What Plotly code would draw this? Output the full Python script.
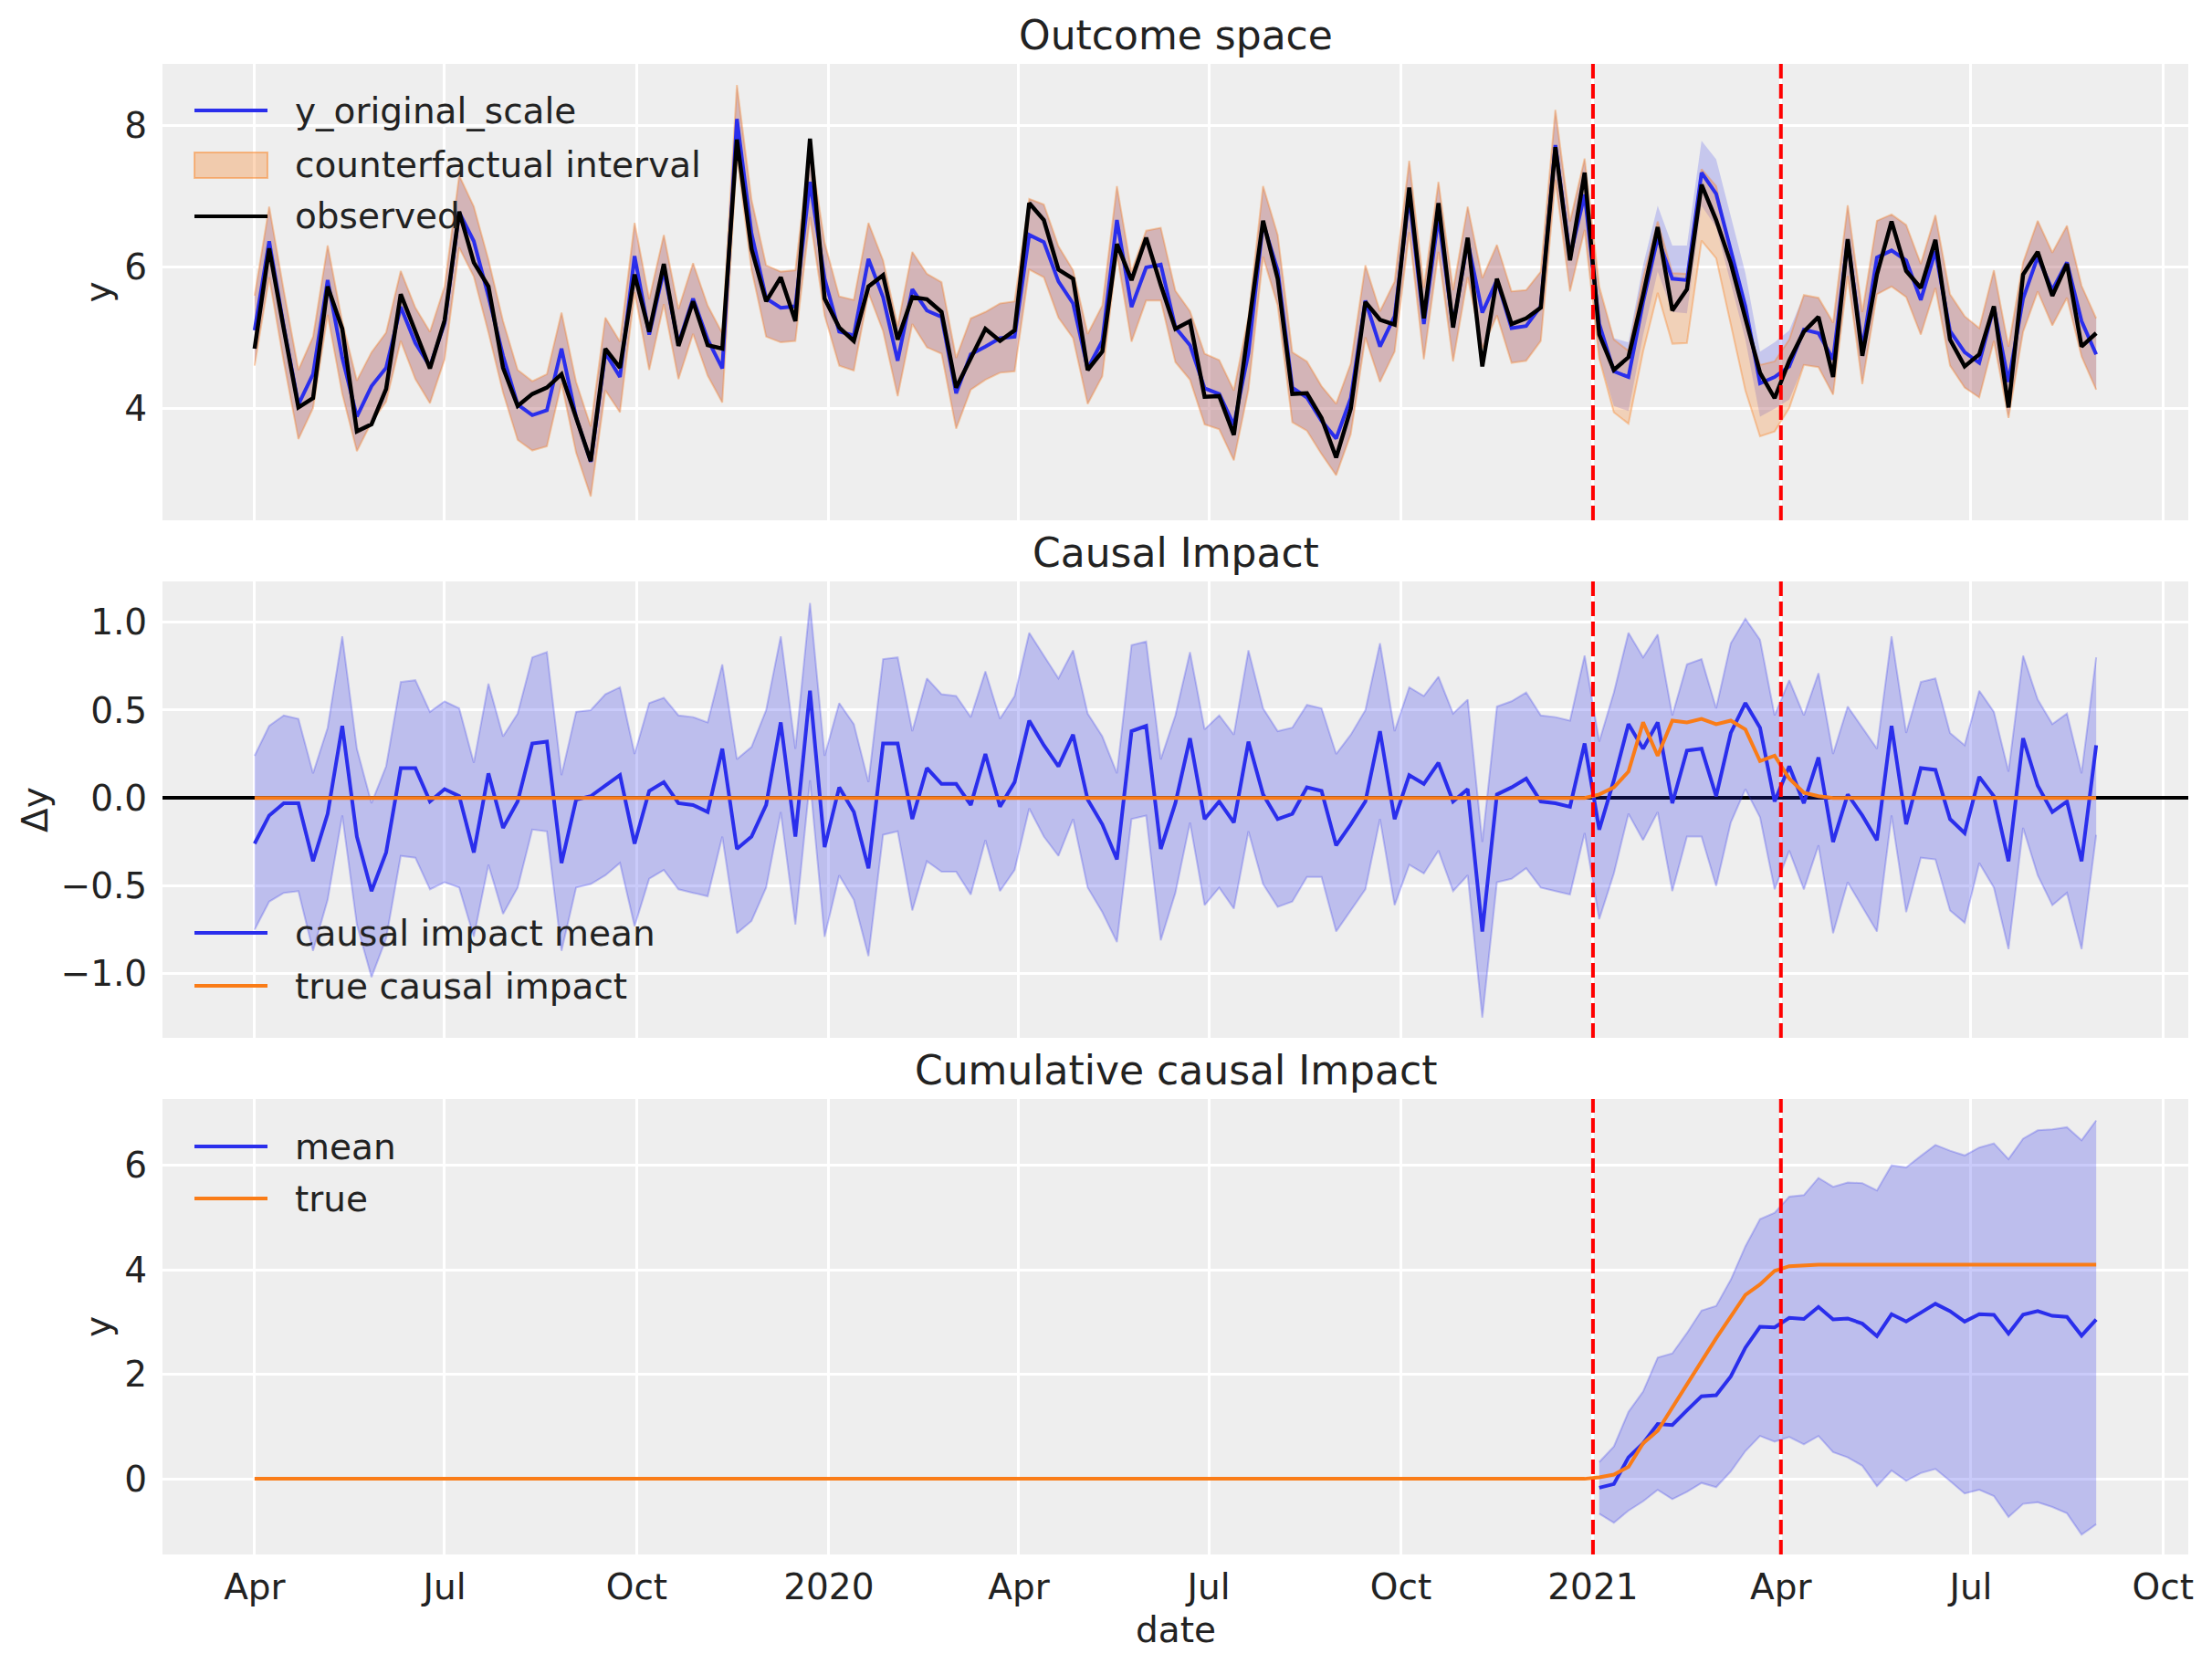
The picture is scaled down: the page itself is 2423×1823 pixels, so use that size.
import pandas as pd
import plotly.graph_objects as go

# ---------------- data ----------------
start_date = "2019-04-01"
n_points = 127
n_pre = 92
dates = pd.date_range(start_date, periods=n_points, freq="W-MON")
post_dates = dates[n_pre:]
intervention_dates = ["2021-01-01", "2021-04-01"]

x_tick_dates = ["2019-04-01", "2019-07-01", "2019-10-01", "2020-01-01", "2020-04-01",
                "2020-07-01", "2020-10-01", "2021-01-01", "2021-04-01", "2021-07-01",
                "2021-10-01"]
x_tick_text = ["Apr", "Jul", "Oct", "2020", "Apr", "Jul", "Oct", "2021", "Apr", "Jul", "Oct"]

observed = [
    4.84, 6.26, 5.12, 4.01, 4.14, 5.72, 5.12, 3.67, 3.77, 4.27,
    5.61, 5.08, 4.56, 5.24, 6.78, 6.06, 5.72, 4.57, 4.03, 4.20,
    4.29, 4.48, 3.86, 3.25, 4.84, 4.57, 5.89, 5.08, 6.04, 4.88,
    5.51, 4.89, 4.84, 7.80, 6.25, 5.51, 5.85, 5.23, 7.81, 5.55,
    5.14, 4.95, 5.72, 5.88, 4.97, 5.57, 5.54, 5.36, 4.29, 4.72,
    5.12, 4.95, 5.10, 6.90, 6.66, 5.96, 5.83, 4.54, 4.80, 6.32,
    5.81, 6.41, 5.74, 5.12, 5.23, 4.16, 4.17, 3.62, 5.10, 6.65,
    5.83, 4.20, 4.21, 3.86, 3.30, 3.99, 5.50, 5.25, 5.18, 7.12,
    5.27, 6.90, 5.14, 6.41, 4.59, 5.83, 5.19, 5.27, 5.42, 7.69,
    6.09, 7.33, 5.04, 4.54, 4.72, 5.60, 6.56, 5.38, 5.68, 7.16,
    6.66, 6.05, 5.27, 4.50, 4.14, 4.67, 5.08, 5.29, 4.44, 6.39,
    4.74, 5.89, 6.64, 5.94, 5.70, 6.38, 4.97, 4.59, 4.76, 5.44,
    4.01, 5.89, 6.21, 5.59, 6.04, 4.87, 5.06,
]

y_fit = [
    5.10, 6.36, 5.15, 4.05, 4.48, 5.81, 4.71, 3.88, 4.31, 4.57,
    5.43, 4.92, 4.59, 5.20, 6.77, 6.36, 5.58, 4.74, 4.05, 3.90,
    3.97, 4.84, 3.87, 3.24, 4.78, 4.44, 6.15, 5.04, 5.95, 4.91,
    5.55, 4.97, 4.56, 8.09, 6.47, 5.55, 5.42, 5.44, 7.20, 5.83,
    5.08, 5.03, 6.11, 5.57, 4.67, 5.68, 5.38, 5.29, 4.21, 4.76,
    4.87, 4.99, 5.01, 6.45, 6.35, 5.79, 5.48, 4.56, 4.95, 6.66,
    5.43, 5.99, 6.03, 5.14, 4.89, 4.28, 4.20, 3.76, 4.78, 6.62,
    5.95, 4.29, 4.15, 3.82, 3.57, 4.14, 5.52, 4.87, 5.30, 6.99,
    5.19, 6.70, 5.16, 6.36, 5.35, 5.81, 5.13, 5.16, 5.44, 7.72,
    6.14, 7.02, 5.19, 4.52, 4.44, 5.50, 6.41, 5.83, 5.81, 7.33,
    7.03, 6.21, 5.44, 4.35, 4.44, 4.59, 5.11, 5.06, 4.69, 6.37,
    4.84, 6.13, 6.23, 6.09, 5.53, 6.22, 5.09, 4.79, 4.64, 5.43,
    4.37, 5.55, 6.14, 5.67, 6.06, 5.23, 4.76,
]

fit_lower = [
    4.60, 5.85, 4.65, 3.56, 4.00, 5.32, 4.20, 3.39, 3.80, 4.09,
    4.95, 4.41, 4.07, 4.69, 6.27, 5.86, 5.07, 4.22, 3.55, 3.40,
    3.46, 4.35, 3.37, 2.75, 4.25, 3.94, 5.64, 4.54, 5.47, 4.41,
    5.05, 4.46, 4.08, 7.58, 5.96, 5.01, 4.93, 4.95, 6.70, 5.31,
    4.60, 4.53, 5.63, 5.09, 4.17, 5.19, 4.86, 4.77, 3.71, 4.26,
    4.40, 4.50, 4.52, 5.96, 5.85, 5.28, 4.99, 4.06, 4.45, 6.18,
    4.94, 5.52, 5.52, 4.65, 4.40, 3.77, 3.70, 3.26, 4.26, 6.14,
    5.45, 3.80, 3.68, 3.35, 3.05, 3.63, 5.00, 4.37, 4.80, 6.49,
    4.69, 6.21, 4.66, 5.85, 4.84, 5.31, 4.64, 4.67, 4.95, 7.23,
    5.65, 6.52, 4.71, 4.03, 3.96, 5.03, 5.93, 5.36, 5.34, 6.86,
    6.56, 5.75, 4.97, 3.88, 3.99, 4.12, 4.61, 4.58, 4.19, 5.87,
    4.34, 5.61, 5.72, 5.57, 5.04, 5.70, 4.60, 4.29, 4.15, 4.95,
    3.86, 5.08, 5.65, 5.17, 5.56, 4.73, 4.26,
]

fit_upper = [
    5.59, 6.85, 5.66, 4.54, 5.01, 6.30, 5.22, 4.39, 4.79, 5.07,
    5.94, 5.42, 5.08, 5.72, 7.29, 6.85, 6.10, 5.23, 4.54, 4.38,
    4.48, 5.35, 4.37, 3.74, 5.28, 4.94, 6.62, 5.54, 6.45, 5.40,
    6.05, 5.45, 5.06, 8.57, 6.95, 6.02, 5.93, 5.95, 7.71, 6.34,
    5.58, 5.53, 6.62, 6.09, 5.16, 6.21, 5.90, 5.78, 4.71, 5.27,
    5.36, 5.48, 5.51, 6.96, 6.88, 6.29, 5.95, 5.05, 5.45, 7.14,
    5.93, 6.51, 6.55, 5.66, 5.37, 4.77, 4.68, 4.25, 5.29, 7.14,
    6.45, 4.79, 4.66, 4.31, 4.06, 4.63, 6.02, 5.37, 5.79, 7.50,
    5.70, 7.20, 5.67, 6.85, 5.84, 6.31, 5.65, 5.67, 5.93, 8.22,
    6.64, 7.53, 5.70, 4.99, 4.93, 6.02, 6.86, 6.30, 6.30, 7.78,
    7.52, 6.73, 5.91, 4.80, 4.93, 5.10, 5.60, 5.56, 5.21, 6.87,
    5.36, 6.65, 6.74, 6.59, 6.04, 6.73, 5.61, 5.30, 5.13, 5.95,
    4.87, 6.06, 6.65, 6.20, 6.58, 5.73, 5.27,
]

cf_lower = [
    4.60, 5.85, 4.65, 3.56, 4.00, 5.32, 4.20, 3.39, 3.80, 4.09,
    4.95, 4.41, 4.07, 4.69, 6.27, 5.86, 5.07, 4.22, 3.55, 3.40,
    3.46, 4.35, 3.37, 2.75, 4.25, 3.94, 5.64, 4.54, 5.47, 4.41,
    5.05, 4.46, 4.08, 7.58, 5.96, 5.01, 4.93, 4.95, 6.70, 5.31,
    4.60, 4.53, 5.63, 5.09, 4.17, 5.19, 4.86, 4.77, 3.71, 4.26,
    4.40, 4.50, 4.52, 5.96, 5.85, 5.28, 4.99, 4.06, 4.45, 6.18,
    4.94, 5.52, 5.52, 4.65, 4.40, 3.77, 3.70, 3.26, 4.26, 6.14,
    5.45, 3.80, 3.68, 3.35, 3.05, 3.63, 5.00, 4.37, 4.80, 6.49,
    4.69, 6.21, 4.66, 5.85, 4.84, 5.31, 4.64, 4.67, 4.95, 7.23,
    5.65, 6.52, 4.70, 3.94, 3.78, 4.80, 5.63, 4.91, 4.92, 6.37,
    6.12, 5.17, 4.25, 3.60, 3.67, 4.00, 4.61, 4.58, 4.19, 5.87,
    4.34, 5.61, 5.72, 5.57, 5.04, 5.70, 4.60, 4.29, 4.15, 4.95,
    3.86, 5.08, 5.65, 5.17, 5.56, 4.73, 4.26,
]

cf_upper = [
    5.59, 6.85, 5.66, 4.54, 5.01, 6.30, 5.22, 4.39, 4.79, 5.07,
    5.94, 5.42, 5.08, 5.72, 7.29, 6.85, 6.10, 5.23, 4.54, 4.38,
    4.48, 5.35, 4.37, 3.74, 5.28, 4.94, 6.62, 5.54, 6.45, 5.40,
    6.05, 5.45, 5.06, 8.57, 6.95, 6.02, 5.93, 5.95, 7.71, 6.34,
    5.58, 5.53, 6.62, 6.09, 5.16, 6.21, 5.90, 5.78, 4.71, 5.27,
    5.36, 5.48, 5.51, 6.96, 6.88, 6.29, 5.95, 5.05, 5.45, 7.14,
    5.93, 6.51, 6.55, 5.66, 5.37, 4.77, 4.68, 4.25, 5.29, 7.14,
    6.45, 4.79, 4.66, 4.31, 4.06, 4.63, 6.02, 5.37, 5.79, 7.50,
    5.70, 7.20, 5.67, 6.85, 5.84, 6.31, 5.65, 5.67, 5.93, 8.22,
    6.64, 7.53, 5.72, 4.97, 4.81, 5.84, 6.64, 5.91, 5.90, 7.38,
    7.14, 6.19, 5.22, 4.61, 4.66, 4.97, 5.60, 5.56, 5.21, 6.87,
    5.36, 6.65, 6.74, 6.59, 6.04, 6.73, 5.61, 5.30, 5.13, 5.95,
    4.87, 6.06, 6.65, 6.20, 6.58, 5.73, 5.27,
]

impact_mean = [
    -0.26, -0.10, -0.03, -0.03, -0.36, -0.09, 0.41, -0.22, -0.53, -0.31,
    0.17, 0.17, -0.02, 0.05, 0.01, -0.31, 0.14, -0.17, -0.02, 0.31,
    0.32, -0.37, -0.01, 0.01, 0.07, 0.13, -0.26, 0.04, 0.09, -0.03,
    -0.04, -0.08, 0.28, -0.29, -0.22, -0.04, 0.43, -0.22, 0.61, -0.28,
    0.06, -0.08, -0.40, 0.31, 0.31, -0.12, 0.17, 0.08, 0.08, -0.04,
    0.25, -0.05, 0.09, 0.44, 0.30, 0.18, 0.36, -0.01, -0.15, -0.35,
    0.38, 0.41, -0.29, -0.03, 0.34, -0.12, -0.02, -0.14, 0.32, 0.02,
    -0.12, -0.09, 0.06, 0.04, -0.27, -0.15, -0.02, 0.38, -0.12, 0.13,
    0.08, 0.20, -0.02, 0.05, -0.76, 0.02, 0.06, 0.11, -0.02, -0.03,
    -0.05, 0.31, -0.18, 0.10, 0.42, 0.28, 0.43, -0.03, 0.27, 0.28,
    0.01, 0.37, 0.54, 0.40, -0.02, 0.18, -0.03, 0.23, -0.25, 0.02,
    -0.10, -0.24, 0.41, -0.15, 0.17, 0.16, -0.12, -0.20, 0.12, 0.01,
    -0.36, 0.34, 0.07, -0.08, -0.02, -0.36, 0.30,
]

impact_upper = [
    0.24, 0.41, 0.47, 0.45, 0.14, 0.40, 0.92, 0.28, -0.03, 0.18,
    0.66, 0.67, 0.49, 0.55, 0.51, 0.20, 0.65, 0.35, 0.48, 0.80,
    0.83, 0.13, 0.49, 0.50, 0.59, 0.63, 0.25, 0.54, 0.57, 0.47,
    0.46, 0.43, 0.76, 0.22, 0.29, 0.50, 0.92, 0.28, 1.11, 0.24,
    0.54, 0.42, 0.09, 0.79, 0.80, 0.38, 0.68, 0.59, 0.58, 0.46,
    0.72, 0.45, 0.58, 0.94, 0.81, 0.68, 0.84, 0.48, 0.35, 0.14,
    0.87, 0.89, 0.22, 0.47, 0.83, 0.39, 0.47, 0.36, 0.84, 0.51,
    0.38, 0.40, 0.53, 0.51, 0.25, 0.36, 0.50, 0.88, 0.38, 0.63,
    0.58, 0.69, 0.48, 0.56, -0.25, 0.52, 0.55, 0.60, 0.47, 0.46,
    0.44, 0.81, 0.32, 0.60, 0.94, 0.80, 0.93, 0.47, 0.76, 0.79,
    0.51, 0.88, 1.02, 0.90, 0.47, 0.67, 0.47, 0.71, 0.25, 0.52,
    0.40, 0.28, 0.92, 0.37, 0.66, 0.68, 0.37, 0.30, 0.61, 0.49,
    0.15, 0.81, 0.56, 0.42, 0.48, 0.14, 0.80,
]

impact_lower = [
    -0.75, -0.59, -0.54, -0.53, -0.87, -0.58, -0.10, -0.72, -1.02, -0.80,
    -0.33, -0.34, -0.52, -0.48, -0.51, -0.79, -0.38, -0.66, -0.51, -0.18,
    -0.19, -0.87, -0.51, -0.49, -0.44, -0.37, -0.73, -0.46, -0.41, -0.52,
    -0.54, -0.56, -0.22, -0.77, -0.70, -0.51, -0.08, -0.72, 0.10, -0.79,
    -0.44, -0.58, -0.90, -0.21, -0.19, -0.64, -0.36, -0.42, -0.42, -0.55,
    -0.24, -0.53, -0.41, -0.06, -0.22, -0.33, -0.12, -0.51, -0.65, -0.82,
    -0.12, -0.10, -0.81, -0.54, -0.14, -0.61, -0.51, -0.63, -0.19, -0.49,
    -0.62, -0.59, -0.45, -0.45, -0.76, -0.64, -0.52, -0.12, -0.61, -0.38,
    -0.43, -0.30, -0.53, -0.44, -1.25, -0.48, -0.46, -0.40, -0.51, -0.53,
    -0.55, -0.20, -0.69, -0.43, -0.09, -0.24, -0.08, -0.53, -0.22, -0.22,
    -0.50, -0.14, 0.05, -0.11, -0.52, -0.30, -0.52, -0.27, -0.77, -0.48,
    -0.62, -0.76, -0.10, -0.65, -0.34, -0.35, -0.64, -0.71, -0.37, -0.51,
    -0.86, -0.17, -0.44, -0.61, -0.54, -0.86, -0.21,
]

true_impact = [
    0.0, 0.0, 0.0, 0.0, 0.0, 0.0, 0.0, 0.0, 0.0, 0.0,
    0.0, 0.0, 0.0, 0.0, 0.0, 0.0, 0.0, 0.0, 0.0, 0.0,
    0.0, 0.0, 0.0, 0.0, 0.0, 0.0, 0.0, 0.0, 0.0, 0.0,
    0.0, 0.0, 0.0, 0.0, 0.0, 0.0, 0.0, 0.0, 0.0, 0.0,
    0.0, 0.0, 0.0, 0.0, 0.0, 0.0, 0.0, 0.0, 0.0, 0.0,
    0.0, 0.0, 0.0, 0.0, 0.0, 0.0, 0.0, 0.0, 0.0, 0.0,
    0.0, 0.0, 0.0, 0.0, 0.0, 0.0, 0.0, 0.0, 0.0, 0.0,
    0.0, 0.0, 0.0, 0.0, 0.0, 0.0, 0.0, 0.0, 0.0, 0.0,
    0.0, 0.0, 0.0, 0.0, 0.0, 0.0, 0.0, 0.0, 0.0, 0.0,
    0.0, 0.0, 0.02, 0.06, 0.15, 0.43, 0.24, 0.44, 0.43, 0.45,
    0.42, 0.44, 0.39, 0.21, 0.24, 0.11, 0.03, 0.01, 0.0, 0.0,
    0.0, 0.0, 0.0, 0.0, 0.0, 0.0, 0.0, 0.0, 0.0, 0.0,
    0.0, 0.0, 0.0, 0.0, 0.0, 0.0, 0.0,
]

cum_true = [
    0.0, 0.0, 0.0, 0.0, 0.0, 0.0, 0.0, 0.0, 0.0, 0.0,
    0.0, 0.0, 0.0, 0.0, 0.0, 0.0, 0.0, 0.0, 0.0, 0.0,
    0.0, 0.0, 0.0, 0.0, 0.0, 0.0, 0.0, 0.0, 0.0, 0.0,
    0.0, 0.0, 0.0, 0.0, 0.0, 0.0, 0.0, 0.0, 0.0, 0.0,
    0.0, 0.0, 0.0, 0.0, 0.0, 0.0, 0.0, 0.0, 0.0, 0.0,
    0.0, 0.0, 0.0, 0.0, 0.0, 0.0, 0.0, 0.0, 0.0, 0.0,
    0.0, 0.0, 0.0, 0.0, 0.0, 0.0, 0.0, 0.0, 0.0, 0.0,
    0.0, 0.0, 0.0, 0.0, 0.0, 0.0, 0.0, 0.0, 0.0, 0.0,
    0.0, 0.0, 0.0, 0.0, 0.0, 0.0, 0.0, 0.0, 0.0, 0.0,
    0.0, 0.0, 0.03, 0.08, 0.23, 0.68, 0.92, 1.37, 1.83, 2.25,
    2.69, 3.12, 3.52, 3.72, 3.98, 4.07, 4.09, 4.10, 4.10, 4.10,
    4.10, 4.10, 4.10, 4.10, 4.10, 4.10, 4.10, 4.10, 4.10, 4.10,
    4.10, 4.10, 4.10, 4.10, 4.10, 4.10, 4.10,
]

# cumulative impact over the post-intervention weeks
cum_mean = [
    -0.17, -0.10, 0.41, 0.68, 1.05, 1.03, 1.31, 1.58, 1.60, 1.96,
    2.51, 2.91, 2.90, 3.08, 3.06, 3.29, 3.05, 3.07, 2.97, 2.73,
    3.15, 3.01, 3.18, 3.35, 3.21, 3.01, 3.15, 3.14, 2.78, 3.14,
    3.21, 3.12, 3.10, 2.74, 3.05,
]
cum_upper = [
    0.32, 0.62, 1.28, 1.67, 2.32, 2.40, 2.79, 3.22, 3.31, 3.81,
    4.45, 4.97, 5.09, 5.40, 5.43, 5.76, 5.59, 5.67, 5.66, 5.52,
    6.00, 5.96, 6.18, 6.39, 6.28, 6.19, 6.34, 6.42, 6.12, 6.51,
    6.67, 6.69, 6.73, 6.48, 6.86,
]
cum_lower = [
    -0.67, -0.84, -0.61, -0.43, -0.21, -0.39, -0.25, -0.08, -0.16, 0.14,
    0.53, 0.82, 0.71, 0.80, 0.66, 0.82, 0.51, 0.41, 0.25, -0.14,
    0.16, -0.04, 0.11, 0.19, -0.04, -0.28, -0.21, -0.33, -0.73, -0.48,
    -0.45, -0.54, -0.66, -1.07, -0.87,
]

# ---------------- styling / layout constants ----------------
W, H = 2423, 1823
M_L, M_R, M_T, M_B = 178, 26, 70, 120
PW, PH = W - M_L - M_R, H - M_T - M_B

BLUE = "#2a2eec"
ORANGE = "#fa7c17"
TEXT = "#222222"
FONT = "DejaVu Sans"
TICK_SIZE = 39
TITLE_SIZE = 44


def px_x(px):
    return (px - M_L) / PW


def px_y(py):
    return (H - M_B - py) / PH


def dom(top_px, bottom_px):
    return [px_y(bottom_px), px_y(top_px)]


panels = [(70, 570), (637, 1137), (1204, 1703)]

fig = go.Figure()

# ---- panel 1: outcome space ----
common = dict(mode="lines", hoverinfo="skip", showlegend=False)
fig.add_trace(go.Scatter(x=dates, y=fit_lower, line=dict(width=0, color="rgba(42,46,236,0)"),
                         xaxis="x", yaxis="y", **common))
fig.add_trace(go.Scatter(x=dates, y=fit_upper, line=dict(width=0, color="rgba(42,46,236,0)"),
                         fill="tonexty", fillcolor="rgba(42,46,236,0.2)",
                         xaxis="x", yaxis="y", **common))
fig.add_trace(go.Scatter(x=dates, y=cf_lower, line=dict(width=2, color="rgba(250,124,23,0.35)"),
                         xaxis="x", yaxis="y", **common))
fig.add_trace(go.Scatter(x=dates, y=cf_upper, line=dict(width=2, color="rgba(250,124,23,0.35)"),
                         fill="tonexty", fillcolor="rgba(250,124,23,0.25)",
                         xaxis="x", yaxis="y", **common))
fig.add_trace(go.Scatter(x=dates, y=y_fit, name="y_original_scale",
                         line=dict(width=4, color=BLUE), xaxis="x", yaxis="y", **common))
fig.add_trace(go.Scatter(x=dates, y=observed, name="observed",
                         line=dict(width=4.5, color="black"), xaxis="x", yaxis="y", **common))

# ---- panel 2: causal impact ----
fig.add_trace(go.Scatter(x=dates, y=impact_lower, line=dict(width=2, color="rgba(42,46,236,0.25)"),
                         xaxis="x2", yaxis="y2", **common))
fig.add_trace(go.Scatter(x=dates, y=impact_upper, line=dict(width=2, color="rgba(42,46,236,0.25)"),
                         fill="tonexty", fillcolor="rgba(42,46,236,0.25)",
                         xaxis="x2", yaxis="y2", **common))
fig.add_trace(go.Scatter(x=dates, y=impact_mean, name="causal impact mean",
                         line=dict(width=4, color=BLUE), xaxis="x2", yaxis="y2", **common))
fig.add_trace(go.Scatter(x=dates, y=true_impact, name="true causal impact",
                         line=dict(width=4, color=ORANGE), xaxis="x2", yaxis="y2", **common))

# ---- panel 3: cumulative causal impact ----
fig.add_trace(go.Scatter(x=post_dates, y=cum_lower, line=dict(width=2, color="rgba(42,46,236,0.25)"),
                         xaxis="x3", yaxis="y3", **common))
fig.add_trace(go.Scatter(x=post_dates, y=cum_upper, line=dict(width=2, color="rgba(42,46,236,0.25)"),
                         fill="tonexty", fillcolor="rgba(42,46,236,0.25)",
                         xaxis="x3", yaxis="y3", **common))
fig.add_trace(go.Scatter(x=post_dates, y=cum_mean, name="mean",
                         line=dict(width=4, color=BLUE), xaxis="x3", yaxis="y3", **common))
fig.add_trace(go.Scatter(x=dates, y=cum_true, name="true",
                         line=dict(width=4, color=ORANGE), xaxis="x3", yaxis="y3", **common))

# ---- axes ----
x_range = ["2019-02-15 21:36", "2021-10-13 02:24"]
xbase = dict(range=x_range, tickvals=x_tick_dates, ticktext=x_tick_text,
             showgrid=True, gridcolor="white", gridwidth=2.5, zeroline=False,
             showline=False, ticks="outside", ticklen=1, tickcolor="rgba(0,0,0,0)",
             tickfont=dict(size=TICK_SIZE, color=TEXT, family=FONT), domain=[0, 1])
ybase = dict(showgrid=True, gridcolor="white", gridwidth=2.5, zeroline=False,
             showline=False, ticks="outside", ticklen=8, tickcolor="rgba(0,0,0,0)",
             tickfont=dict(size=TICK_SIZE, color=TEXT, family=FONT))
title_font = dict(size=TICK_SIZE, color=TEXT, family=FONT)

fig.update_layout(
    xaxis=dict(xbase, anchor="y", showticklabels=False),
    xaxis2=dict(xbase, anchor="y2", matches="x", showticklabels=False),
    xaxis3=dict(xbase, anchor="y3", matches="x", showticklabels=True),
    yaxis=dict(ybase, anchor="x", domain=dom(*panels[0]), range=[2.413, 8.869],
               tickvals=[4, 6, 8], ticktext=["4", "6", "8"],
               title=dict(text="y", font=title_font, standoff=2)),
    yaxis2=dict(ybase, anchor="x2", domain=dom(*panels[1]), range=[-1.365, 1.232],
                tickvals=[-1.0, -0.5, 0.0, 0.5, 1.0],
                ticktext=["\u22121.0", "\u22120.5", "0.0", "0.5", "1.0"],
                zeroline=True, zerolinecolor="black", zerolinewidth=4,
                title=dict(text="\u0394y", font=title_font, standoff=1)),
    yaxis3=dict(ybase, anchor="x3", domain=dom(*panels[2]), range=[-1.448, 7.27],
                tickvals=[0, 2, 4, 6], ticktext=["0", "2", "4", "6"],
                title=dict(text="y", font=title_font, standoff=2)),
    width=W, height=H,
    margin=dict(l=M_L, r=M_R, t=M_T, b=M_B, pad=0),
    paper_bgcolor="white", plot_bgcolor="#eeeeee",
    font=dict(family=FONT, color=TEXT, size=TICK_SIZE),
    showlegend=False,
)

# ---- vertical red dashed intervention lines ----
shapes = []
for k in ["", "2", "3"]:
    for d in intervention_dates:
        shapes.append(dict(type="line", xref="x" + k, yref=("y" + k) + " domain",
                           x0=d, x1=d, y0=0, y1=1, layer="above",
                           line=dict(color="red", width=4, dash="16px,6px")))

# ---- subplot titles and x-axis label ----
titles = ["Outcome space", "Causal Impact", "Cumulative causal Impact"]
annotations = []
for (top, _), t in zip(panels, titles):
    annotations.append(dict(text=t, x=0.5, y=px_y(top - 32), xref="paper", yref="paper",
                            xanchor="center", yanchor="middle", showarrow=False,
                            font=dict(size=TITLE_SIZE, color=TEXT, family=FONT)))
annotations.append(dict(text="date", x=0.5, y=px_y(1786), xref="paper", yref="paper",
                        xanchor="center", yanchor="middle", showarrow=False, font=title_font))

# ---- legends (drawn as handles + real text) ----
H_X0, H_X1, T_X = 213, 293, 321
legend_items = [
    ("line", BLUE, "y_original_scale", 121),
    ("patch", ORANGE, "counterfactual interval", 181),
    ("line", "black", "observed", 237),
    ("line", BLUE, "causal impact mean", 1022),
    ("line", ORANGE, "true causal impact", 1080),
    ("line", BLUE, "mean", 1256),
    ("line", ORANGE, "true", 1313),
]
for kind, color, label, yc in legend_items:
    if kind == "line":
        shapes.append(dict(type="line", xref="paper", yref="paper",
                           x0=px_x(H_X0), x1=px_x(H_X1), y0=px_y(yc), y1=px_y(yc),
                           layer="above", line=dict(color=color, width=4)))
    else:
        shapes.append(dict(type="rect", xref="paper", yref="paper",
                           x0=px_x(H_X0), x1=px_x(H_X1), y0=px_y(yc + 14), y1=px_y(yc - 14),
                           layer="above", fillcolor="rgba(250,124,23,0.3)",
                           line=dict(color="rgba(250,124,23,0.45)", width=2)))
    annotations.append(dict(text=label, x=px_x(T_X), y=px_y(yc), xref="paper", yref="paper",
                            xanchor="left", yanchor="middle", showarrow=False,
                            font=dict(size=TICK_SIZE, color=TEXT, family=FONT)))

fig.update_layout(shapes=shapes, annotations=annotations)

fig.write_html("out.html",
               config={"displayModeBar": False},
               post_script="document.body.style.margin='0';document.body.style.overflow='hidden';")
